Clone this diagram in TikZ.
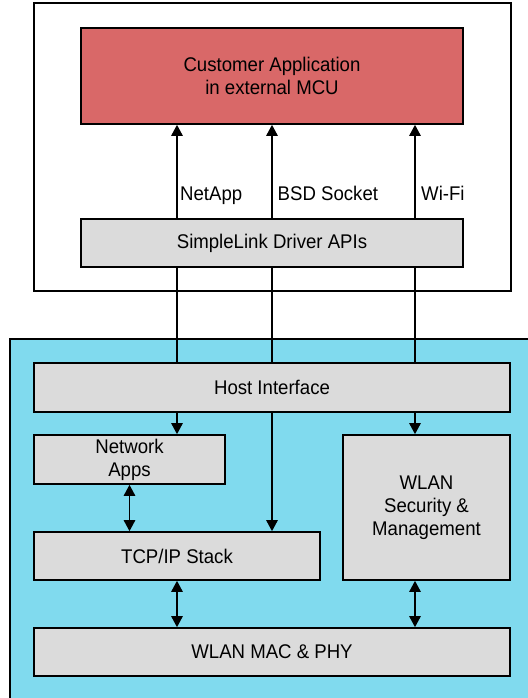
\documentclass[tikz,border=0pt]{standalone}
\usepackage{fontspec}
\setmainfont[FakeStretch=0.94]{Liberation Sans}
\usetikzlibrary{arrows.meta}
\definecolor{appred}{HTML}{D96868}
\definecolor{chipblue}{HTML}{80DAEE}
\definecolor{blockgray}{HTML}{DBDBDB}
\tikzset{
  blk/.style={draw=black, line width=1.7pt, rectangle, inner sep=0pt, align=center,
    font=\fontsize{19.8}{23}\selectfont},
  conn/.style={line width=1.2pt},
  arr/.style={conn, -{Triangle[length=11pt,width=11.5pt]}},
  darr/.style={conn, {Triangle[length=11pt,width=11.5pt]}-{Triangle[length=11pt,width=11.5pt]}},
  lbl/.style={anchor=base west, inner sep=0pt, font=\fontsize{19.8}{23}\selectfont}
}
\begin{document}
\begin{tikzpicture}[x=1pt,y=-1pt]
\useasboundingbox (0,0) rectangle (527,698);
% top group
\node[blk, fill=white, minimum width=477pt, minimum height=288pt] (outer) at (272.5,147) {};
\node[blk, fill=appred, minimum width=382pt, minimum height=96pt] (app) at (272,76) {Customer Application\\in external MCU};
\node[blk, fill=blockgray, minimum width=382pt, minimum height=48pt] (slink) at (272,243) {SimpleLink Driver APIs};
% device group
\node[blk, fill=chipblue, minimum width=520pt, minimum height=363pt] (chip) at (270,520.5) {};
\node[blk, fill=blockgray, minimum width=476pt, minimum height=49pt] (host) at (272,387.5) {Host Interface};
\node[blk, fill=blockgray, minimum width=191pt, minimum height=49pt] (napps) at (129.5,459.5) {Network\\Apps};
\node[blk, fill=blockgray, minimum width=286pt, minimum height=48pt] (tcp) at (177,556) {TCP/IP Stack};
\node[blk, fill=blockgray, minimum width=167pt, minimum height=145pt] (wsec) at (426.5,507.5) {WLAN\\Security \&\\Management};
\node[blk, fill=blockgray, minimum width=476pt, minimum height=48pt] (mac) at (272,652) {WLAN MAC \& PHY};
% column coordinates
\coordinate (c0) at (129.5,0);
\coordinate (c1) at (177,0);
\coordinate (c2) at (272,0);
\coordinate (c3) at (415,0);
% API arrows
\draw[arr] (slink.north -| c1) -- (app.south -| c1);
\draw[arr] (slink.north -| c2) -- (app.south -| c2);
\draw[arr] (slink.north -| c3) -- (app.south -| c3);
\node[lbl] (lnet) at (180,200) {NetApp};
\node[lbl] (lbsd) at (277.5,200) {BSD Socket};
\node[lbl] (lwifi) at (421,200) {Wi-Fi};
% host links
\draw[conn] (slink.south -| c1) -- (host.north -| c1);
\draw[conn] (slink.south -| c2) -- (host.north -| c2);
\draw[conn] (slink.south -| c3) -- (host.north -| c3);
% internal
\draw[arr] (host.south -| c1) -- (napps.north -| c1);
\draw[arr] (host.south -| c2) -- (tcp.north -| c2);
\draw[arr] (host.south -| c3) -- (wsec.north -| c3);
\draw[darr] (napps.south -| c0) -- (tcp.north -| c0);
\draw[darr] (tcp.south -| c1) -- (mac.north -| c1);
\draw[darr] (wsec.south -| c3) -- (mac.north -| c3);
\end{tikzpicture}
\end{document}
